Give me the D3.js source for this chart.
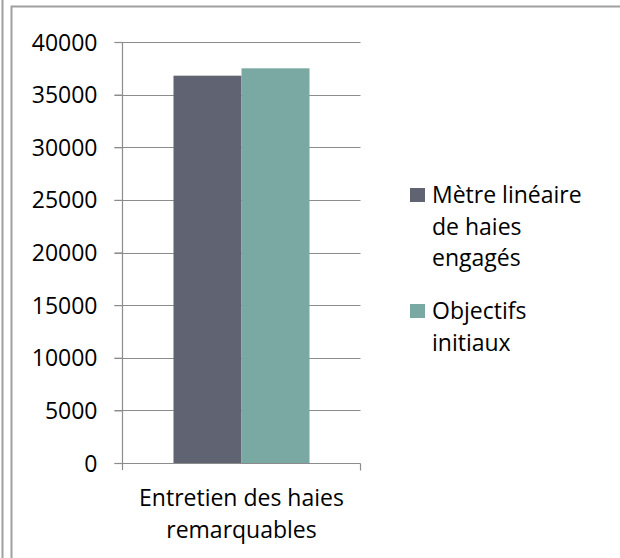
<!DOCTYPE html>
<html>
<head>
<meta charset="utf-8">
<script src="https://cdn.jsdelivr.net/npm/d3@7"></script>
<style>
  body { margin: 0; background: #fff; }
  svg text { font-family: "Open Sans", sans-serif; fill: #000; }
</style>
</head>
<body>
<div id="chart"></div>
<script>
(function() {
// data
var categories = ['Entretien des haies remarquables'];
var seriesNames = ['Mètre linéaire de haies engagés', 'Objectifs initiaux'];
var seriesValues = [[36800], [37500]];
var seriesColors = ['#5f6372', '#7aa8a2'];
var yTicks = [0, 5000, 10000, 15000, 20000, 25000, 30000, 35000, 40000];
var categoryLines = [['Entretien des haies', 'remarquables']];
var legendLines = [['Mètre linéaire', 'de haies', 'engagés'], ['Objectifs', 'initiaux']];

var width = 620, height = 558;
var svg = d3.select('#chart').append('svg')
    .attr('width', width)
    .attr('height', height);

// frame lines
svg.append('line').attr('x1', 2.5).attr('x2', 2.5).attr('y1', 0).attr('y2', height)
    .attr('stroke', '#a0a0a0').attr('stroke-width', 2);
svg.append('path')
    .attr('d', 'M11.5,' + height + 'V6.5H' + width)
    .attr('fill', 'none').attr('stroke', '#a0a0a0').attr('stroke-width', 2);

var plotLeft = 122.5, plotRight = 360.5, plotTop = 42, plotBottom = 463;
var fontSize = 23;

var y = d3.scaleLinear().domain([0, 40000]).range([plotBottom, plotTop]);
var x0 = d3.scaleBand().domain(categories).range([plotLeft, plotRight]).paddingInner(0).paddingOuter(0.375);
var x1 = d3.scaleBand().domain(d3.range(seriesNames.length)).range([0, x0.bandwidth()]);

// gridlines
svg.append('g').selectAll('line').data(yTicks.slice(1)).enter().append('line')
    .attr('x1', plotLeft - 8).attr('x2', plotRight)
    .attr('y1', function(d) { return Math.round(y(d)) + 0.5; })
    .attr('y2', function(d) { return Math.round(y(d)) + 0.5; })
    .attr('stroke', '#8c8c8c').attr('stroke-width', 1.2);

// bars
categories.forEach(function(cat, ci) {
  seriesNames.forEach(function(name, si) {
    var v = seriesValues[si][ci];
    svg.append('rect')
        .attr('x', x0(cat) + x1(si))
        .attr('y', y(v))
        .attr('width', x1.bandwidth())
        .attr('height', y(0) - y(v))
        .attr('fill', seriesColors[si]);
  });
});

// y axis
var yAxis = svg.append('g')
    .attr('transform', 'translate(' + plotLeft + ',0)')
    .call(d3.axisLeft(y).tickValues(yTicks).tickSize(8).tickPadding(17).tickFormat(d3.format('d')));
yAxis.select('.domain').attr('stroke', '#8c8c8c').attr('stroke-width', 1.2)
    .attr('d', 'M0,' + plotTop + 'V' + (plotBottom + 7));
yAxis.selectAll('.tick line').attr('stroke', '#8c8c8c').attr('stroke-width', 1.2);
yAxis.selectAll('.tick text').attr('font-size', fontSize).attr('dy', '0.35em');

// x axis
var xAxis = svg.append('g')
    .attr('transform', 'translate(0,' + (Math.round(y(0)) + 0.5) + ')');
xAxis.append('line').attr('x1', plotLeft - 8).attr('x2', plotRight)
    .attr('stroke', '#8c8c8c').attr('stroke-width', 1.2);
xAxis.append('line').attr('x1', plotRight).attr('x2', plotRight).attr('y1', 0).attr('y2', 7)
    .attr('stroke', '#8c8c8c').attr('stroke-width', 1.2);
categories.forEach(function(cat, ci) {
  var t = xAxis.append('text')
      .attr('text-anchor', 'middle')
      .attr('font-size', fontSize);
  categoryLines[ci].forEach(function(line, li) {
    t.append('tspan').attr('x', x0(cat) + x0.bandwidth() / 2).attr('y', 42 + li * 32).text(line);
  });
});

// legend
var legendTops = [188, 304];
seriesNames.forEach(function(name, si) {
  var g = svg.append('g').attr('transform', 'translate(410,' + legendTops[si] + ')');
  g.append('rect').attr('width', 15).attr('height', 14).attr('fill', seriesColors[si]);
  var t = g.append('text').attr('font-size', fontSize);
  legendLines[si].forEach(function(line, li) {
    t.append('tspan').attr('x', 22).attr('y', 15 + li * 31.5).text(line);
  });
});
})();
</script>
</body>
</html>
